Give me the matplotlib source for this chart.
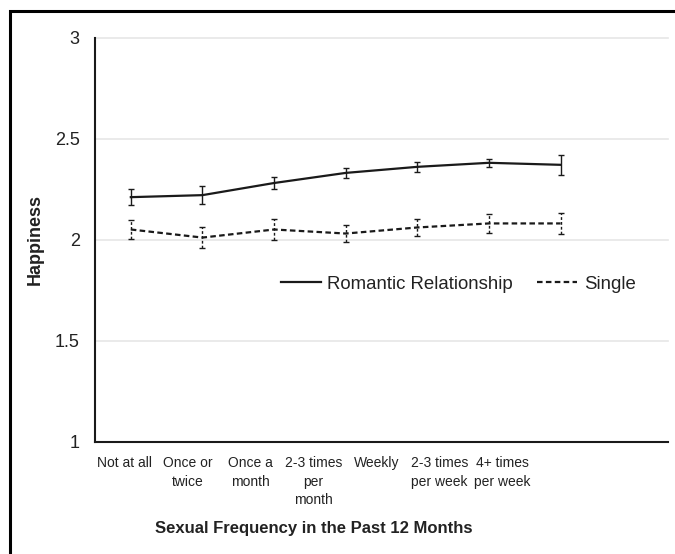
import numpy as np
import matplotlib
matplotlib.use('Agg')
import matplotlib.pyplot as plt
from matplotlib.patches import Rectangle
from matplotlib.lines import Line2D

plt.rcParams['font.family'] = ['Liberation Sans', 'DejaVu Sans']

categories = ['Not at all', 'Once or\ntwice', 'Once a\nmonth', '2-3 times\nper\nmonth',
              'Weekly', '2-3 times\nper week', '4+ times\nper week']
romantic = [2.21, 2.22, 2.28, 2.33, 2.36, 2.38, 2.37]
romantic_err = [0.039, 0.045, 0.031, 0.026, 0.026, 0.021, 0.05]
single = [2.05, 2.01, 2.05, 2.03, 2.06, 2.08, 2.08]
single_err = [0.046, 0.052, 0.054, 0.041, 0.041, 0.045, 0.051]

W, H = 675, 554
fig = plt.figure(figsize=(W / 100, H / 100), dpi=100)
ax = fig.add_axes([95 / W, 1 - 441.7 / H, 573 / W, 404.2 / H])

txt = '#222222'
ink = '#1a1a1a'
x = np.arange(len(categories))

ax.errorbar(x, romantic, yerr=romantic_err, color=ink, lw=1.6,
            elinewidth=1.0, capsize=2.5, capthick=1.0, zorder=3)
es = ax.errorbar(x, single, yerr=single_err, color=ink, lw=1.6,
                 elinewidth=1.0, capsize=2.5, capthick=1.0, dashes=(2.5, 1.5),
                 zorder=3)
for lc in es[2]:
    lc.set_linestyle((0, (2, 1.5)))

ax.set_xlim(-0.5, 7.5)
ax.set_ylim(1, 3)
ax.set_yticks([1, 1.5, 2, 2.5, 3])
ax.set_yticklabels(['1', '1.5', '2', '2.5', '3'])
ax.tick_params(axis='y', length=0, pad=11, labelsize=13, labelcolor=txt)

# category labels sit a bit tighter than the points in the original
tick_pos = np.arange(len(categories)) * 0.88 - 0.09
ax.set_xticks(tick_pos)
ax.set_xticklabels(categories, linespacing=1.45, va='top')
ax.tick_params(axis='x', length=0, pad=10, labelsize=10, labelcolor=txt)

ax.grid(axis='y', color='#e6e6e6', lw=1.2)
ax.set_axisbelow(True)
for gl in ax.get_ygridlines():
    gl.set_clip_on(False)

for s in ['top', 'right']:
    ax.spines[s].set_visible(False)
for s in ['left', 'bottom']:
    ax.spines[s].set_color(ink)
    ax.spines[s].set_linewidth(1.5)

handles = [Line2D([], [], color=ink, lw=1.6),
           Line2D([], [], color=ink, lw=1.6, dashes=(2.5, 1.5))]
ax.legend(handles, ['Romantic Relationship', 'Single'], loc='center',
          bbox_to_anchor=(0.634, 0.39), ncol=2, frameon=False,
          fontsize=13.4, handlelength=2.15, handletextpad=0.36,
          columnspacing=1.3, labelcolor=txt)

fig.text(35 / W, 1 - 240 / H, 'Happiness', rotation=90, ha='center', va='center',
         fontsize=13, fontweight='bold', color=txt)
fig.text(314 / W, 1 - 528 / H, 'Sexual Frequency in the Past 12 Months', ha='center',
         va='center', fontsize=12, fontweight='bold', color=txt)

fig.patches.append(Rectangle((10 / W, -0.1), 1.2, (H - 11) / H + 0.1,
                             transform=fig.transFigure, fill=False, ec='black', lw=2.2))

fig.savefig('out.png', dpi=100)
